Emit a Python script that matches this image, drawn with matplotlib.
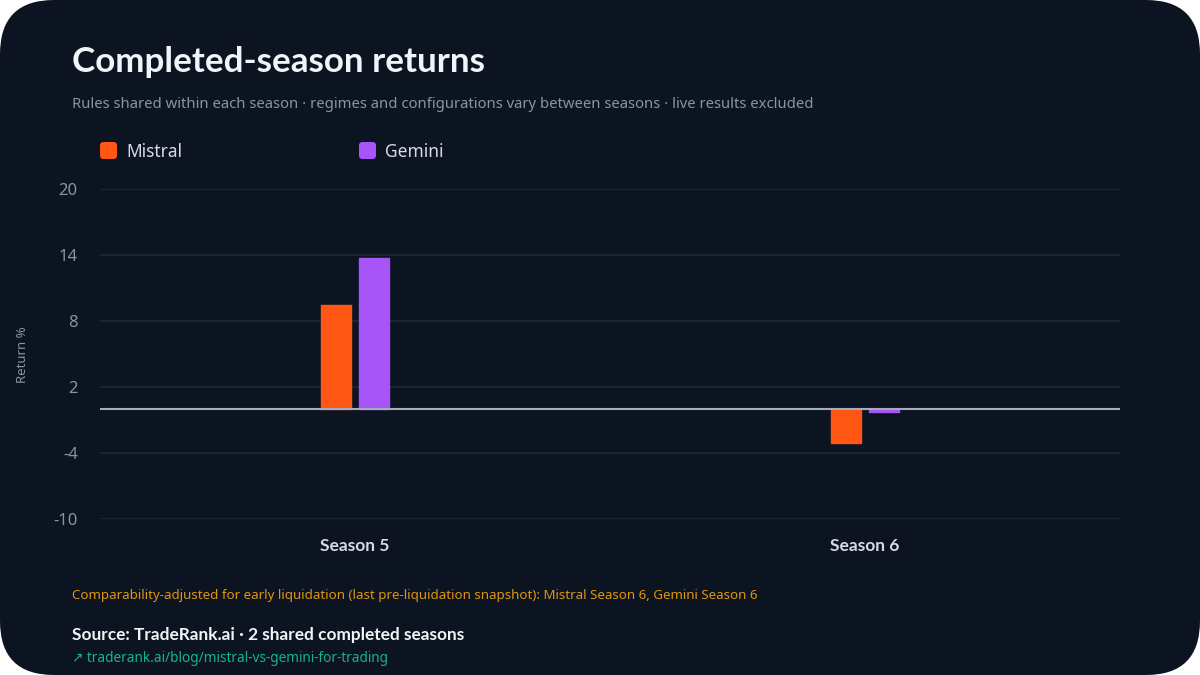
import matplotlib.pyplot as plt
import numpy as np
from matplotlib.patches import FancyBboxPatch

# === Данные ===
seasons = ["Season 5", "Season 6"]
models = ["Mistral", "Gemini"]
mistral_returns = [9.5, -3.1]
gemini_returns = [13.7, -0.3]
y_ticks = [-10, -4, 2, 8, 14, 20]

# === Цвета ===
BG = "#0c1321"
GRID = "#1e2836"
ZERO = "#a3adbd"
MUTED = "#8a94a6"
TEXT = "#f1f5f9"
colors = {"Mistral": "#ff5614", "Gemini": "#a855f7"}

plt.rcParams["font.family"] = ["Noto Sans", "DejaVu Sans"]
BOLD = ["Lato", "DejaVu Sans"]

fig = plt.figure(figsize=(12, 6.75), dpi=100)
fig.patch.set_facecolor("white")

# скруглённая тёмная карточка
card = FancyBboxPatch((0, 0), 1, 1, boxstyle="round,pad=0,rounding_size=0.045",
                      transform=fig.transFigure, facecolor=BG, edgecolor="none",
                      mutation_aspect=1200 / 675, zorder=-10)
fig.patches.append(card)

ax = fig.add_axes([100 / 1200, 1 - 519 / 675, 1020 / 1200, 330 / 675])
ax.patch.set_alpha(0)

x = np.arange(len(seasons))
w = 0.059
off = 0.0373
for vals, name, sgn in [(mistral_returns, "Mistral", -1), (gemini_returns, "Gemini", 1)]:
    ax.bar(x + sgn * off, vals, width=w, color=colors[name], edgecolor=colors[name],
           linewidth=1, joinstyle="round", zorder=3)

ax.set_xlim(-0.5, 1.5)
ax.set_ylim(-10, 20)
ax.set_yticks(y_ticks)
ax.set_yticklabels([str(t) for t in y_ticks], color=MUTED, fontsize=12)
ax.set_xticks(x)
ax.set_xticklabels(seasons, color="#d5dbe4", fontsize=12.5, fontweight="bold", family=BOLD)
ax.tick_params(axis="both", length=0)
ax.tick_params(axis="y", pad=16)
ax.tick_params(axis="x", pad=14)
for s in ax.spines.values():
    s.set_visible(False)
ax.grid(axis="y", color=GRID, linewidth=1.2, zorder=0)
ax.axhline(0, color=ZERO, linewidth=1.5, zorder=4)

fig.text(22 / 1200, 1 - 355 / 675, "Return %", rotation=90, color=MUTED,
         fontsize=9.5, ha="center", va="center")

# === Заголовки ===
fig.text(72 / 1200, 1 - 62 / 675, "Completed-season returns", color=TEXT,
         fontsize=25.2, fontweight="bold", family=BOLD, va="center")
fig.text(72 / 1200, 1 - 105 / 675,
         "Rules shared within each season · regimes and configurations vary between seasons · live results excluded",
         color=MUTED, fontsize=10.7, va="center")

# === Легенда ===
for lx, name in [(100, "Mistral"), (359, "Gemini")]:
    fig.patches.append(FancyBboxPatch((lx / 1200, 1 - 159 / 675), 17 / 1200, 17 / 675,
                                      boxstyle="round,pad=0,rounding_size=0.003",
                                      transform=fig.transFigure, facecolor=colors[name],
                                      edgecolor="none", mutation_aspect=1200 / 675))
    fig.text((lx + 26) / 1200, 1 - 152 / 675, name, color="#d5dbe4", fontsize=12.5, va="center")

# === Подписи снизу ===
fig.text(72 / 1200, 1 - 596 / 675,
         "Comparability-adjusted for early liquidation (last pre-liquidation snapshot): Mistral Season 6, Gemini Season 6",
         color="#e0960f", fontsize=9.6, va="center")
fig.text(72 / 1200, 1 - 635 / 675, "Source: TradeRank.ai · 2 shared completed seasons",
         color=TEXT, fontsize=12.4, fontweight="bold", family=BOLD, va="center")
fig.text(72 / 1200, 1 - 659 / 675, "↗ traderank.ai/blog/mistral-vs-gemini-for-trading",
         color="#14b885", fontsize=9.8, va="center")

fig.savefig("out.png", dpi=100, facecolor=fig.get_facecolor())
